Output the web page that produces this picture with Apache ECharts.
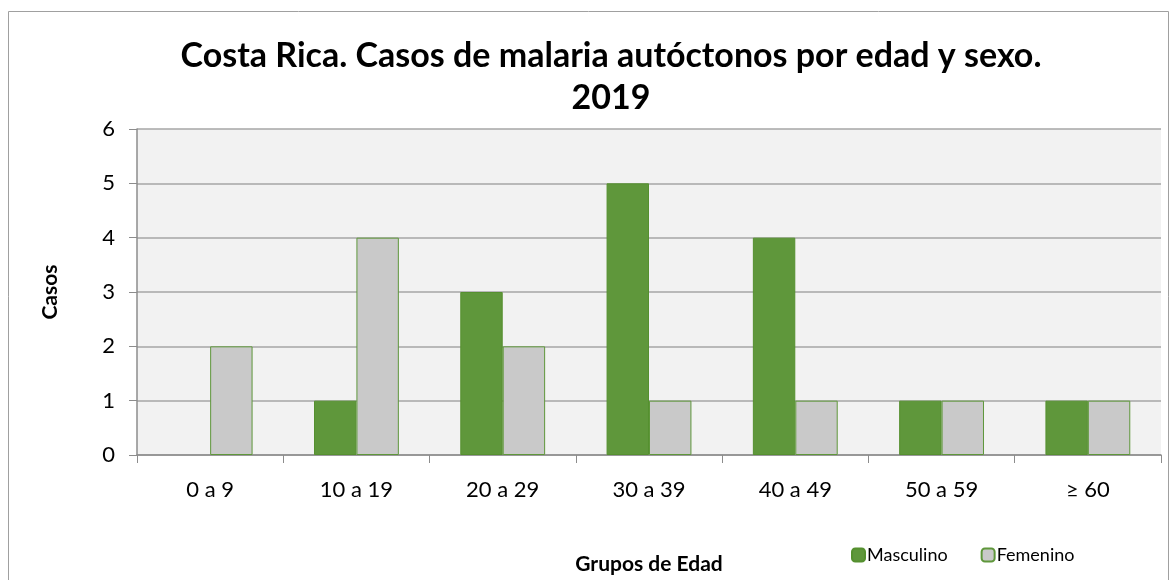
<!DOCTYPE html>
<html>
<head>
<meta charset="utf-8">
<script src="https://cdn.jsdelivr.net/npm/echarts@6/dist/echarts.min.js"></script>
<style>
  html, body { margin: 0; padding: 0; background: #fff; }
  #chart { width: 1176px; height: 580px; }
</style>
</head>
<body>
<div id="chart"></div>
<script>
// data
const ageGroups = ["0 a 9", "10 a 19", "20 a 29", "30 a 39", "40 a 49", "50 a 59", "≥ 60"];
const masculino = [0, 1, 3, 5, 4, 1, 1];
const femenino = [2, 4, 2, 1, 1, 1, 1];

const font = "Lato, 'Open Sans', sans-serif";
const chart = echarts.init(document.getElementById("chart"));

// empty bars are not drawn in the original
const noZero = arr => arr.map(v => (v === 0 ? null : v));

chart.setOption({
    animation: false,
    backgroundColor: "#ffffff",
    graphic: [{
        type: "rect",
        shape: { x: 8.5, y: 11.5, width: 1160, height: 600 },
        style: { fill: "none", stroke: "#a0a0a0", lineWidth: 1 },
        silent: true
    }],
    title: {
        text: "Costa Rica. Casos de malaria autóctonos por edad y sexo.\n2019",
        left: 606,
        top: 30,
        textAlign: "center",
        textStyle: {
            fontFamily: font,
            fontSize: 34,
            fontWeight: "bold",
            color: "#000",
            lineHeight: 42
        }
    },
    legend: {
        data: ["Masculino", "Femenino"],
        left: 846,
        top: 541,
        itemWidth: 13,
        itemHeight: 13,
        itemGap: 33,
        textStyle: { fontFamily: font, fontSize: 18, color: "#000", padding: [0, 0, 0, -3] }
    },
    grid: {
        left: 137,
        right: 15,
        top: 129,
        bottom: 123,
        show: true,
        backgroundColor: "#f2f2f2",
        borderWidth: 0
    },
    xAxis: {
        type: "category",
        data: ageGroups,
        name: "Grupos de Edad",
        nameLocation: "middle",
        nameGap: 99,
        nameTextStyle: { fontFamily: font, fontSize: 21, fontWeight: "bold", color: "#000" },
        axisLine: { lineStyle: { color: "#8c8c8c", width: 1.5 } },
        axisTick: { show: true, length: 8, lineStyle: { color: "#8c8c8c" } },
        axisLabel: { fontFamily: font, fontSize: 22, color: "#000", margin: 24 }
    },
    yAxis: {
        type: "value",
        min: 0,
        max: 6,
        interval: 1,
        name: "Casos",
        nameLocation: "middle",
        nameGap: 76,
        nameTextStyle: { fontFamily: font, fontSize: 21, fontWeight: "bold", color: "#000" },
        axisLine: { show: true, lineStyle: { color: "#8c8c8c", width: 1.5 } },
        axisTick: { show: true, length: 8, lineStyle: { color: "#8c8c8c" } },
        axisLabel: { fontFamily: font, fontSize: 22, color: "#000", margin: 22 },
        splitLine: { lineStyle: { color: "#a6a6a6", width: 1.5 } }
    },
    series: [
        {
            name: "Masculino",
            type: "bar",
            data: noZero(masculino),
            barGap: "0%",
            barCategoryGap: "42%",
            itemStyle: { color: "#5f973b", borderColor: "#55902f", borderWidth: 1 }
        },
        {
            name: "Femenino",
            type: "bar",
            data: noZero(femenino),
            itemStyle: { color: "#c9c9c9", borderColor: "#5f973b", borderWidth: 1 }
        }
    ]
});
</script>
</body>
</html>
